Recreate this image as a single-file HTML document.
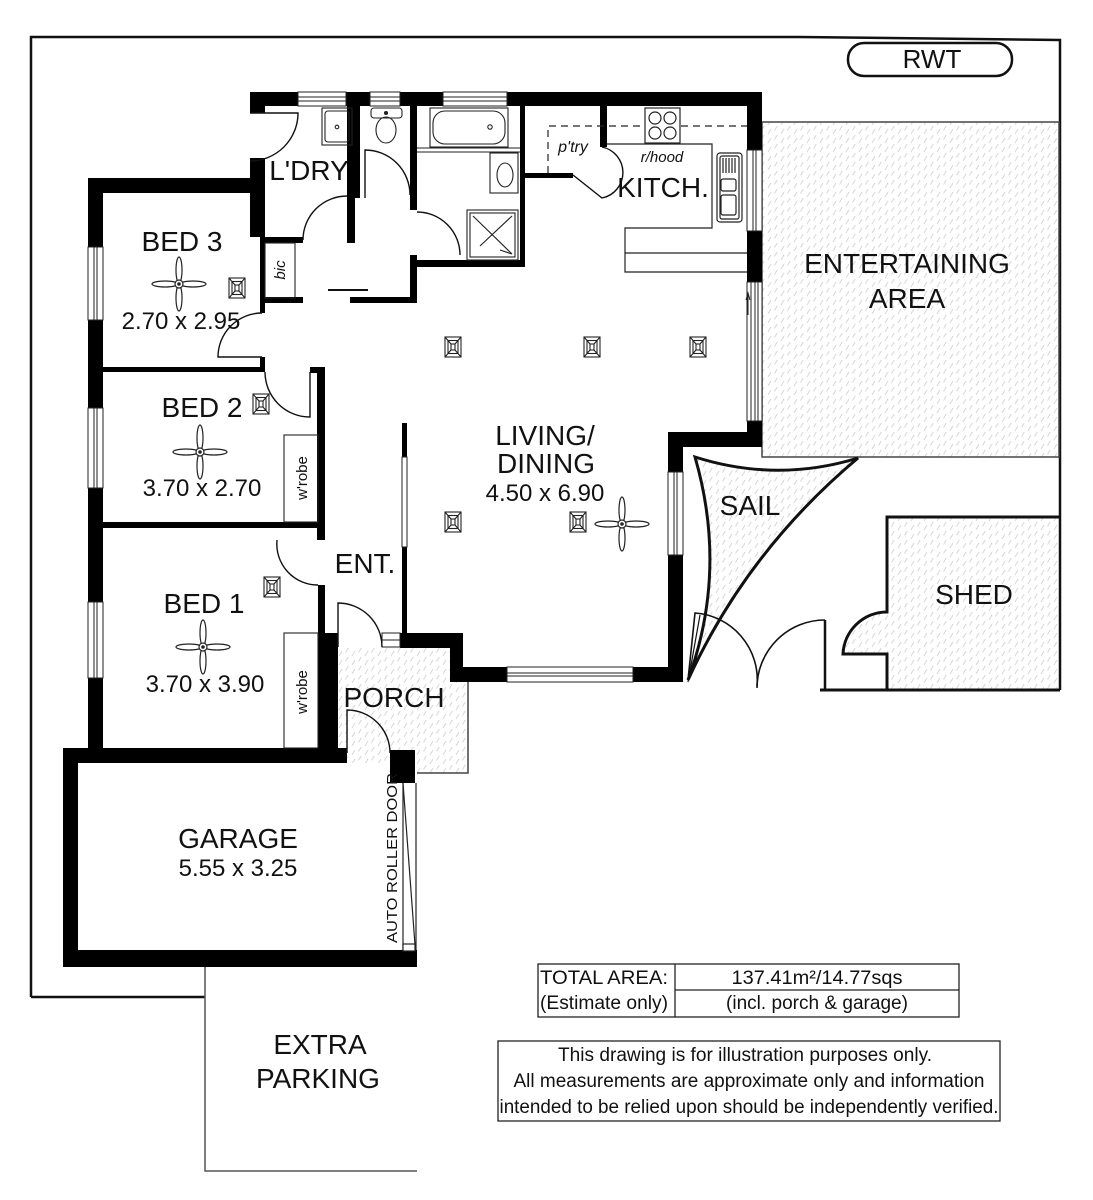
<!DOCTYPE html>
<html><head><meta charset="utf-8"><style>
html,body{margin:0;padding:0;background:#fff;}
svg{display:block;}
text{font-family:"Liberation Sans",Arial,sans-serif;fill:#111;}
</style></head><body>
<svg width="1093" height="1200" viewBox="0 0 1093 1200" xmlns="http://www.w3.org/2000/svg">
<defs>
<pattern id="h" width="13" height="9" patternUnits="userSpaceOnUse">
<path d="M1 8 L4 3 M7.5 4.5 L10.5 -0.5" stroke="#d6d6d6" stroke-width="1" fill="none"/>
</pattern>
<g id="fan" fill="#fff" stroke="#222" stroke-width="1.2">
<ellipse cx="14" cy="0" rx="13" ry="3"/>
<ellipse cx="-14" cy="0" rx="13" ry="3"/>
<ellipse cx="0" cy="14" rx="3" ry="13"/>
<ellipse cx="0" cy="-14" rx="3" ry="13"/>
<circle cx="0" cy="0" r="4"/>
<circle cx="0" cy="0" r="1.2" fill="#222"/>
</g>
<g id="lt" fill="none" stroke="#222" stroke-width="1.1">
<rect x="-8" y="-10" width="16" height="20"/>
<rect x="-5" y="-6.5" width="10" height="13"/>
<rect x="-2" y="-3" width="4" height="6"/>
<path d="M-8 -10 L-2 -3 M8 -10 L2 -3 M-8 10 L-2 3 M8 10 L2 3"/>
</g>
</defs>

<!-- outer boundary -->
<polyline points="31,997 31,37 800,37 1060,40 1060,690" fill="none" stroke="#111" stroke-width="2.5"/>
<line x1="31" y1="997" x2="205" y2="997" stroke="#111" stroke-width="2.5"/>
<polyline points="205,967 205,1171 417,1171" fill="none" stroke="#555" stroke-width="1.5"/>

<!-- RWT -->
<rect x="848" y="43" width="164" height="33" rx="16" ry="16" fill="#fff" stroke="#111" stroke-width="2.5"/>
<text x="932" y="68" font-size="26" text-anchor="middle">RWT</text>

<!-- hatched areas -->
<rect x="762" y="122" width="297" height="335" fill="url(#h)" stroke="#444" stroke-width="1.5"/>
<path d="M887,517 L1059,517 L1059,690 L887,690 L887,654 L843,654 A44,44 0 0 1 887,612 Z" fill="url(#h)"/>
<path d="M695,457 Q777,483 858,458 Q747,551 688,680 Q728,571 695,457 Z" fill="url(#h)" stroke="#111" stroke-width="3"/>
<path d="M338,648 L463,648 L463,680 L468,680 L468,773 L417,773 L417,763 L338,763 Z" fill="url(#h)"/>
<polyline points="463,680 468,680 468,773 417,773" fill="none" stroke="#444" stroke-width="1.5"/>

<!-- shed -->
<path d="M1059,517 L887,517 L887,612 A44,44 0 0 0 843,654 L887,654 L887,690" fill="none" stroke="#111" stroke-width="3"/>
<line x1="820" y1="690" x2="1060" y2="690" stroke="#111" stroke-width="3"/>
<line x1="825" y1="620" x2="825" y2="690" stroke="#111" stroke-width="2.5"/>
<!-- double doors -->
<path d="M688,680 L695,613 A67,67 0 0 1 757,686" fill="none" stroke="#111" stroke-width="1.6"/>
<path d="M825,620 A68,68 0 0 0 757,688" fill="none" stroke="#111" stroke-width="1.6"/>
<path d="M688,682 L700,615" fill="none" stroke="#111" stroke-width="1.2"/>

<!-- walls -->
<g fill="#000">
<rect x="250" y="92" width="512" height="14"/>
<rect x="250" y="92" width="15" height="21"/>
<rect x="250" y="158" width="15" height="79"/>
<rect x="88" y="178" width="177" height="15"/>
<rect x="88" y="178" width="15" height="585"/>
<rect x="260" y="237" width="5" height="76"/>
<rect x="260" y="357" width="5" height="15"/>
<rect x="103" y="367" width="162" height="5"/>
<rect x="310" y="367" width="15" height="6"/>
<rect x="317" y="367" width="8" height="173"/>
<rect x="103" y="522" width="222" height="6"/>
<rect x="318" y="585" width="7" height="48"/>
<rect x="318" y="633" width="20" height="130"/>
<rect x="63" y="748" width="284" height="15"/>
<rect x="63" y="748" width="15" height="219"/>
<rect x="63" y="950" width="354" height="17"/>
<rect x="390" y="750" width="25" height="33"/>
<rect x="347" y="92" width="13" height="106"/>
<rect x="347" y="193" width="8" height="50"/>
<rect x="265" y="237" width="38" height="6"/>
<rect x="410" y="92" width="7" height="118"/>
<rect x="410" y="255" width="7" height="48"/>
<rect x="410" y="260" width="115" height="7"/>
<rect x="520" y="92" width="5" height="175"/>
<rect x="265" y="297" width="38" height="6"/>
<rect x="350" y="297" width="67" height="6"/>
<rect x="525" y="173" width="48" height="5"/>
<rect x="600" y="106" width="7" height="41"/>
<rect x="747" y="92" width="15" height="190"/>
<rect x="747" y="421" width="15" height="26"/>
<rect x="668" y="432" width="94" height="15"/>
<rect x="668" y="432" width="15" height="250"/>
<rect x="450" y="667" width="233" height="15"/>
<rect x="450" y="633" width="13" height="49"/>
<rect x="400" y="633" width="63" height="15"/>
<rect x="402" y="423" width="5" height="210"/>
</g>

<!-- windows -->
<g fill="#fff" stroke="#222" stroke-width="1">
<rect x="298" y="92" width="48" height="14"/><line x1="298" y1="97" x2="346" y2="97"/><line x1="298" y1="101" x2="346" y2="101"/>
<rect x="370" y="92" width="30" height="14"/><line x1="370" y1="97" x2="400" y2="97"/><line x1="370" y1="101" x2="400" y2="101"/>
<rect x="443" y="92" width="64" height="14"/><line x1="443" y1="97" x2="507" y2="97"/><line x1="443" y1="101" x2="507" y2="101"/>
<rect x="88" y="247" width="15" height="73"/><line x1="94" y1="247" x2="94" y2="320"/><line x1="97" y1="247" x2="97" y2="320"/>
<rect x="88" y="408" width="15" height="80"/><line x1="94" y1="408" x2="94" y2="488"/><line x1="97" y1="408" x2="97" y2="488"/>
<rect x="88" y="602" width="15" height="76"/><line x1="94" y1="602" x2="94" y2="678"/><line x1="97" y1="602" x2="97" y2="678"/>
<rect x="747" y="150" width="15" height="81"/><line x1="753" y1="150" x2="753" y2="231"/><line x1="756" y1="150" x2="756" y2="231"/>
<rect x="668" y="472" width="15" height="83"/><line x1="674" y1="472" x2="674" y2="555"/><line x1="677" y1="472" x2="677" y2="555"/>
<rect x="507" y="667" width="126" height="15"/><line x1="507" y1="673" x2="633" y2="673"/><line x1="507" y1="676" x2="633" y2="676"/>
<rect x="402" y="457" width="5" height="90"/>
<rect x="382" y="633" width="18" height="14"/><line x1="382" y1="640" x2="400" y2="640"/>
<rect x="747" y="282" width="15" height="139"/><line x1="751" y1="282" x2="751" y2="421"/><line x1="755" y1="282" x2="755" y2="421"/><line x1="758" y1="282" x2="758" y2="421"/>
</g>
<path d="M748,315 L748,295 M746,300 L748,293 L750,300" stroke="#222" stroke-width="1" fill="none"/>

<!-- doors -->
<g fill="none" stroke="#111" stroke-width="1.4">
<path d="M250,113 L298,113 A48,48 0 0 1 250,161"/>
<path d="M303,240 A44,44 0 0 1 347,196"/>
<path d="M365,198 L365,150 A45,45 0 0 1 410,195"/>
<path d="M417,212 A43,43 0 0 1 460,255"/>
<path d="M262,313 A44,44 0 0 0 218,357 L262,357"/>
<path d="M265,372 A45,45 0 0 0 310,417 L310,372"/>
<path d="M277,540 A41,41 0 0 0 318,585"/>
<path d="M338,647 L338,603 A44,44 0 0 1 382,647"/>
<path d="M347,753 L347,710 A43,43 0 0 1 390,753"/>
<path d="M573,175 L602,198 A26,26 0 0 0 602,147"/>
</g>
<line x1="328" y1="290" x2="368" y2="290" stroke="#111" stroke-width="2"/>

<!-- roller door -->
<g fill="none" stroke="#222" stroke-width="1.2">
<line x1="403" y1="783" x2="403" y2="950"/>
<line x1="416" y1="783" x2="416" y2="950"/>
<line x1="403" y1="783" x2="415" y2="945"/>
<rect x="403" y="944" width="12" height="7" fill="#fff"/>
</g>

<!-- cupboards -->
<g fill="none" stroke="#222" stroke-width="1.1">
<rect x="265" y="243" width="30" height="55"/>
<rect x="284" y="435" width="34" height="87"/>
<rect x="284" y="633" width="34" height="115"/>
</g>

<!-- bathroom fixtures -->
<g fill="none" stroke="#222" stroke-width="1.1">
<rect x="322" y="108" width="30" height="37"/><rect x="325" y="111" width="24" height="31" rx="3"/><circle cx="337" cy="127" r="1.8"/>
<rect x="371" y="108" width="31" height="10" rx="3"/><ellipse cx="386" cy="130" rx="10" ry="13"/><circle cx="386" cy="113" r="1.5" fill="#222"/>
<rect x="430" y="108" width="78" height="39"/><rect x="433" y="111" width="72" height="33" rx="12"/><circle cx="490" cy="127" r="2.2"/>
<line x1="417" y1="148" x2="520" y2="148"/><line x1="417" y1="152" x2="520" y2="152"/>
<rect x="490" y="153" width="28" height="40"/><ellipse cx="505" cy="175" rx="8" ry="12"/>
<rect x="467" y="210" width="51" height="50"/><rect x="470" y="213" width="45" height="44"/>
<path d="M473,216 L512,254 M512,216 L480,246 M500,250 L512,254"/>
</g>

<!-- kitchen -->
<g fill="none" stroke="#222" stroke-width="1.2">
<path d="M548,173 L548,126 L747,126" stroke-dasharray="7,5"/>
<rect x="645" y="108" width="35" height="35" fill="#fff"/>
<circle cx="655" cy="118" r="6"/><circle cx="670" cy="118" r="6"/><circle cx="655" cy="133" r="6"/><circle cx="670" cy="133" r="6"/>
<polyline points="607,144 712,144 712,228 625,228 625,272 747,272"/>
<line x1="625" y1="253" x2="747" y2="253"/>
<rect x="717" y="153" width="25" height="69" rx="3"/>
<rect x="720" y="156" width="19" height="63" rx="2"/>
<path d="M723,158 V173 M726,158 V173 M729,158 V173 M732,158 V173 M735,158 V173"/>
<rect x="721" y="179" width="15" height="12" rx="2"/>
<rect x="721" y="195" width="15" height="20" rx="2"/>
</g>

<!-- fans & lights -->
<use href="#fan" x="179" y="284"/>
<use href="#fan" x="200" y="452"/>
<use href="#fan" x="203" y="647"/>
<use href="#fan" x="622" y="524"/>
<use href="#lt" x="237" y="288"/>
<use href="#lt" x="261" y="404"/>
<use href="#lt" x="272" y="587"/>
<use href="#lt" x="453" y="347"/>
<use href="#lt" x="592" y="347"/>
<use href="#lt" x="698" y="347"/>
<use href="#lt" x="453" y="522"/>
<use href="#lt" x="578" y="522"/>

<!-- labels -->
<g font-size="28">
<text x="309" y="180" text-anchor="middle">L'DRY</text>
<text x="663" y="197" text-anchor="middle">KITCH.</text>
<text x="182" y="251" text-anchor="middle">BED 3</text>
<text x="202" y="417" text-anchor="middle">BED 2</text>
<text x="204" y="613" text-anchor="middle">BED 1</text>
<text x="545" y="445" text-anchor="middle">LIVING/</text>
<text x="546" y="473" text-anchor="middle">DINING</text>
<text x="365" y="573" text-anchor="middle">ENT.</text>
<text x="394" y="707" text-anchor="middle">PORCH</text>
<text x="238" y="848" text-anchor="middle">GARAGE</text>
<text x="750" y="515" text-anchor="middle">SAIL</text>
<text x="907" y="273" text-anchor="middle">ENTERTAINING</text>
<text x="907" y="308" text-anchor="middle">AREA</text>
<text x="974" y="604" text-anchor="middle">SHED</text>
<text x="320" y="1054" text-anchor="middle">EXTRA</text>
<text x="318" y="1088" text-anchor="middle">PARKING</text>
</g>
<g font-size="24">
<text x="181" y="329" text-anchor="middle">2.70 x 2.95</text>
<text x="202" y="496" text-anchor="middle">3.70 x 2.70</text>
<text x="205" y="692" text-anchor="middle">3.70 x 3.90</text>
<text x="238" y="876" text-anchor="middle">5.55 x 3.25</text>
<text x="545" y="501" text-anchor="middle">4.50 x 6.90</text>
</g>
<text x="573" y="152" font-size="16" font-style="italic" text-anchor="middle">p'try</text>
<text x="662" y="162" font-size="15" font-style="italic" text-anchor="middle">r/hood</text>
<text transform="translate(285,270) rotate(-90)" font-size="15" font-style="italic" text-anchor="middle">bic</text>
<text transform="translate(307,478) rotate(-90)" font-size="15" text-anchor="middle">w'robe</text>
<text transform="translate(307,692) rotate(-90)" font-size="15" text-anchor="middle">w'robe</text>
<text transform="translate(397,858) rotate(-90)" font-size="15" text-anchor="middle" textLength="170" lengthAdjust="spacingAndGlyphs">AUTO ROLLER DOOR</text>

<!-- area table -->
<g fill="none" stroke="#222" stroke-width="1.3">
<rect x="538" y="964" width="421" height="53"/>
<line x1="675" y1="964" x2="675" y2="1017"/>
<line x1="675" y1="990" x2="959" y2="990"/>
<rect x="498" y="1041" width="502" height="80"/>
</g>
<g font-size="19">
<text x="540" y="984" textLength="128" lengthAdjust="spacingAndGlyphs">TOTAL AREA:</text>
<text x="540" y="1009" textLength="128" lengthAdjust="spacingAndGlyphs">(Estimate only)</text>
<text x="817" y="984" text-anchor="middle" textLength="171" lengthAdjust="spacingAndGlyphs">137.41m²/14.77sqs</text>
<text x="817" y="1009" text-anchor="middle" textLength="182" lengthAdjust="spacingAndGlyphs">(incl. porch &amp; garage)</text>
<text x="745" y="1061" text-anchor="middle" textLength="374" lengthAdjust="spacingAndGlyphs">This drawing is for illustration purposes only.</text>
<text x="749" y="1087" text-anchor="middle" textLength="471" lengthAdjust="spacingAndGlyphs">All measurements are approximate only and information</text>
<text x="749" y="1113" text-anchor="middle" textLength="499" lengthAdjust="spacingAndGlyphs">intended to be relied upon should be independently verified.</text>
</g>
</svg>
</body></html>
